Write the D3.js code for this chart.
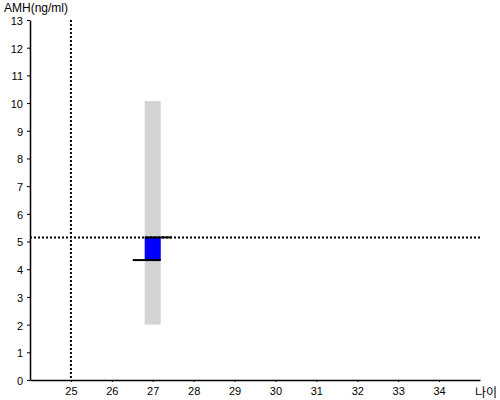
<!DOCTYPE html>
<html>
<head>
<meta charset="utf-8">
<script src="https://cdn.jsdelivr.net/npm/d3@7"></script>
<style>
  body { margin: 0; background: #fff; }
  svg text { font-family: Arial, "Liberation Sans", sans-serif; font-size: 11px; fill: #000; }
</style>
</head>
<body>
<svg width="500" height="400"></svg>
<script>
// values
const xTicks = [25, 26, 27, 28, 29, 30, 31, 32, 33, 34];
const yTicks = [0, 1, 2, 3, 4, 5, 6, 7, 8, 9, 10, 11, 12, 13];
const refAge = [25];
const refAmh = [5.15];
const rangeAge = [27];
const rangeLow = [2.0];
const rangeHigh = [10.07];
const prevAmh = [4.33];
const currAmh = [5.15];

const svg = d3.select('svg');
const x = d3.scaleLinear().domain([24, 35]).range([30, 480]);
const y = d3.scaleLinear().domain([0, 13]).range([380, 20]);
const barW = 16;

// grey normal range
svg.selectAll('.range')
  .data(rangeAge)
  .enter()
  .append('rect')
  .attr('x', (d) => x(d) - barW / 2)
  .attr('width', barW)
  .attr('y', (d, i) => y(rangeHigh[i]))
  .attr('height', (d, i) => y(rangeLow[i]) - y(rangeHigh[i]))
  .attr('fill', '#d3d3d3');

// blue change bar
svg.selectAll('.change')
  .data(rangeAge)
  .enter()
  .append('rect')
  .attr('x', (d) => x(d) - barW / 2)
  .attr('width', barW)
  .attr('y', (d, i) => y(currAmh[i]))
  .attr('height', (d, i) => y(prevAmh[i]) - y(currAmh[i]))
  .attr('fill', '#0000ff');

// previous value (extends left), current value (extends right)
rangeAge.forEach((a, i) => {
  svg.append('line')
    .attr('x1', x(a) - barW / 2 - 12).attr('x2', x(a) + barW / 2)
    .attr('y1', y(prevAmh[i])).attr('y2', y(prevAmh[i]))
    .attr('stroke', '#000').attr('stroke-width', 2);
  svg.append('line')
    .attr('x1', x(a) - barW / 2).attr('x2', x(a) + barW / 2 + 11)
    .attr('y1', y(currAmh[i])).attr('y2', y(currAmh[i]))
    .attr('stroke', '#000').attr('stroke-width', 2);
});

// axes
const xAxis = svg.append('g')
  .attr('transform', `translate(0,${y(0)})`)
  .call(d3.axisBottom(x).tickValues(xTicks).tickSize(2).tickSizeOuter(0));
const yAxis = svg.append('g')
  .attr('transform', `translate(${x(24)},0)`)
  .call(d3.axisLeft(y).tickValues(yTicks).tickSize(3).tickSizeOuter(0));
[xAxis, yAxis].forEach((g) => {
  g.selectAll('text').style('font-family', 'Arial, "Liberation Sans", sans-serif').style('font-size', '11px').attr('fill', '#000');
  g.select('.domain').attr('stroke-width', 1.5);
});
xAxis.selectAll('text').attr('dy', '0.9em');
yAxis.selectAll('text').attr('x', -7).attr('dy', '0.4em');

// dotted reference lines
svg.selectAll('.vref')
  .data(refAge)
  .enter()
  .append('line')
  .attr('x1', (d) => x(d)).attr('x2', (d) => x(d))
  .attr('y1', y(13)).attr('y2', y(0))
  .attr('stroke', '#000').attr('stroke-width', 2).attr('stroke-dasharray', '2,2');
svg.selectAll('.href')
  .data(refAmh)
  .enter()
  .append('line')
  .attr('x1', x(24)).attr('x2', x(35))
  .attr('y1', (d) => y(d)).attr('y2', (d) => y(d))
  .attr('stroke', '#000').attr('stroke-width', 2).attr('stroke-dasharray', '2,2');

// axis titles
svg.append('text').attr('x', 4).attr('y', 12).style('font-size', '12px').text('AMH(ng/ml)');
svg.append('text').attr('x', 475).attr('y', 397)
  .style('font-family', '"Noto Sans CJK KR", sans-serif').style('font-size', '12px').text('나이');
</script>
</body>
</html>
